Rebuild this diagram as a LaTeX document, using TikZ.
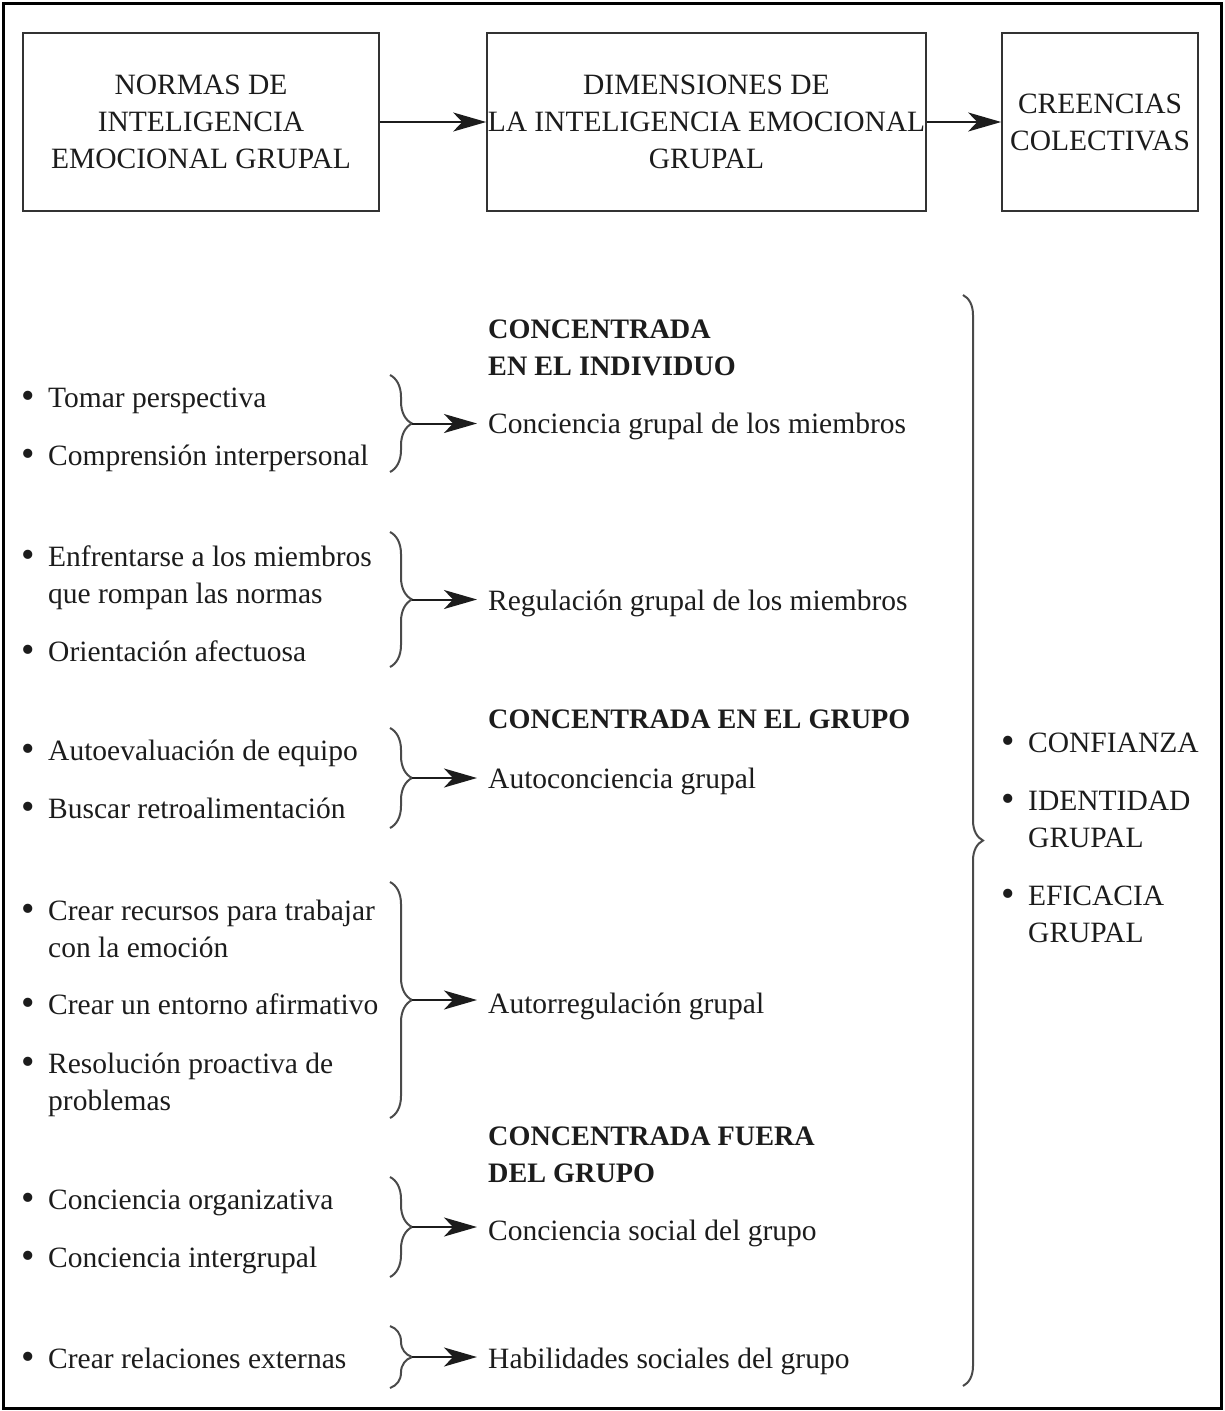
\documentclass[tikz,border=0pt]{standalone}
\usepackage{fontspec}
\setmainfont{Liberation Serif}
\usetikzlibrary{arrows.meta,decorations.pathreplacing}
\definecolor{ink}{HTML}{1C1C1C}
\definecolor{boxline}{HTML}{333333}
\definecolor{braceline}{HTML}{4A4A4A}
\tikzset{
  txt/.style={inner sep=0pt, anchor=base west, align=left, text=ink,
    font=\fontsize{29.5}{37}\selectfont},
  head/.style={txt, font=\fontsize{28.2}{37}\selectfont\bfseries},
  topbox/.style={draw=boxline, line width=1.6pt, inner sep=0pt, align=center,
    text=ink, font=\fontsize{29.5}{37}\selectfont},
  link/.style={draw=ink, line width=2pt, -{Stealth[length=33pt,width=19pt,inset=9pt]}},
  bracket/.style={draw=braceline, line width=2pt, decorate,
    decoration={brace, amplitude=#1}},
  bracket/.default=22pt
}
\newcommand{\itembullet}{\llap{\raisebox{-1pt}{\scalebox{1.3}{\textbullet}}\hspace{13pt}}}
\begin{document}
\begin{tikzpicture}[x=1pt,y=-1pt]
\useasboundingbox (0,0) rectangle (1225,1411);
% outer frame
\draw[line width=3pt, black] (3,3) rectangle (1221,1408);

% top row of boxes
\node[topbox, minimum width=356pt, minimum height=178pt] (norms) at (201,122)
  {NORMAS DE\\INTELIGENCIA\\EMOCIONAL GRUPAL};
\node[topbox, minimum width=439pt, minimum height=178pt] (dims) at (706.5,122)
  {DIMENSIONES DE\\LA INTELIGENCIA EMOCIONAL\\GRUPAL};
\node[topbox, minimum width=196pt, minimum height=178pt] (beliefs) at (1100,122)
  {CREENCIAS\\COLECTIVAS};
\draw[link] (norms.east) -- (dims.west);
\draw[link] (dims.east) -- (beliefs.west);

% group norms (left column); multi-line nodes sit on their last baseline
\node[txt] (n1) at (48,407) {\itembullet Tomar perspectiva};
\node[txt] (n2) at (48,465) {\itembullet Comprensión interpersonal};
\node[txt] (n3) at (48,603) {\itembullet Enfrentarse a los miembros\\que rompan las normas};
\node[txt] (n4) at (48,661) {\itembullet Orientación afectuosa};
\node[txt] (n5) at (48,760) {\itembullet Autoevaluación de equipo};
\node[txt] (n6) at (48,818) {\itembullet Buscar retroalimentación};
\node[txt] (n7) at (48,957) {\itembullet Crear recursos para trabajar\\con la emoción};
\node[txt] (n8) at (48,1014) {\itembullet Crear un entorno afirmativo};
\node[txt] (n9) at (48,1110) {\itembullet Resolución proactiva de\\problemas};
\node[txt] (n10) at (48,1209) {\itembullet Conciencia organizativa};
\node[txt] (n11) at (48,1267) {\itembullet Conciencia intergrupal};
\node[txt] (n12) at (48,1368) {\itembullet Crear relaciones externas};

% focus headings
\node[head] (h1) at (488,375) {CONCENTRADA\\EN EL INDIVIDUO};
\node[head] (h2) at (488,728) {CONCENTRADA EN EL GRUPO};
\node[head] (h3) at (488,1182) {CONCENTRADA FUERA\\DEL GRUPO};

% dimensions
\node[txt] (d1) at (488,433) {Conciencia grupal de los miembros};
\node[txt] (d2) at (488,610) {Regulación grupal de los miembros};
\node[txt] (d3) at (488,788) {Autoconciencia grupal};
\node[txt] (d4) at (488,1013) {Autorregulación grupal};
\node[txt] (d5) at (488,1240) {Conciencia social del grupo};
\node[txt] (d6) at (488,1368) {Habilidades sociales del grupo};

% collective beliefs
\node[txt] (c1) at (1028,752) {\itembullet CONFIANZA};
\node[txt] (c2) at (1028,847) {\itembullet IDENTIDAD\\GRUPAL};
\node[txt] (c3) at (1028,942) {\itembullet EFICACIA\\GRUPAL};

% brace ends and tips
\foreach \i/\top/\bot in {1/375/472, 2/532/667, 3/728/828, 4/882/1118, 5/1177/1277, 6/1326/1388} {
  \coordinate (b\i t) at (390,\top);
  \coordinate (b\i b) at (390,\bot);
  \coordinate (tip\i) at (412,{(\top+\bot)/2});
  \draw[bracket] (b\i t) -- (b\i b);
}
\draw[link, shorten >=11pt] (tip1) -- (tip1 -| d1.west);
\draw[link, shorten >=11pt] (tip2) -- (tip2 -| d2.west);
\draw[link, shorten >=11pt] (tip3) -- (tip3 -| d3.west);
\draw[link, shorten >=11pt] (tip4) -- (tip4 -| d4.west);
\draw[link, shorten >=11pt] (tip5) -- (tip5 -| d5.west);
\draw[link, shorten >=11pt] (tip6) -- (tip6 -| d6.west);

% large brace gathering all dimensions
\coordinate (bigt) at (963,295);
\coordinate (bigb) at (963,1386);
\draw[bracket=20pt] (bigt) -- (bigb);
\end{tikzpicture}
\end{document}
